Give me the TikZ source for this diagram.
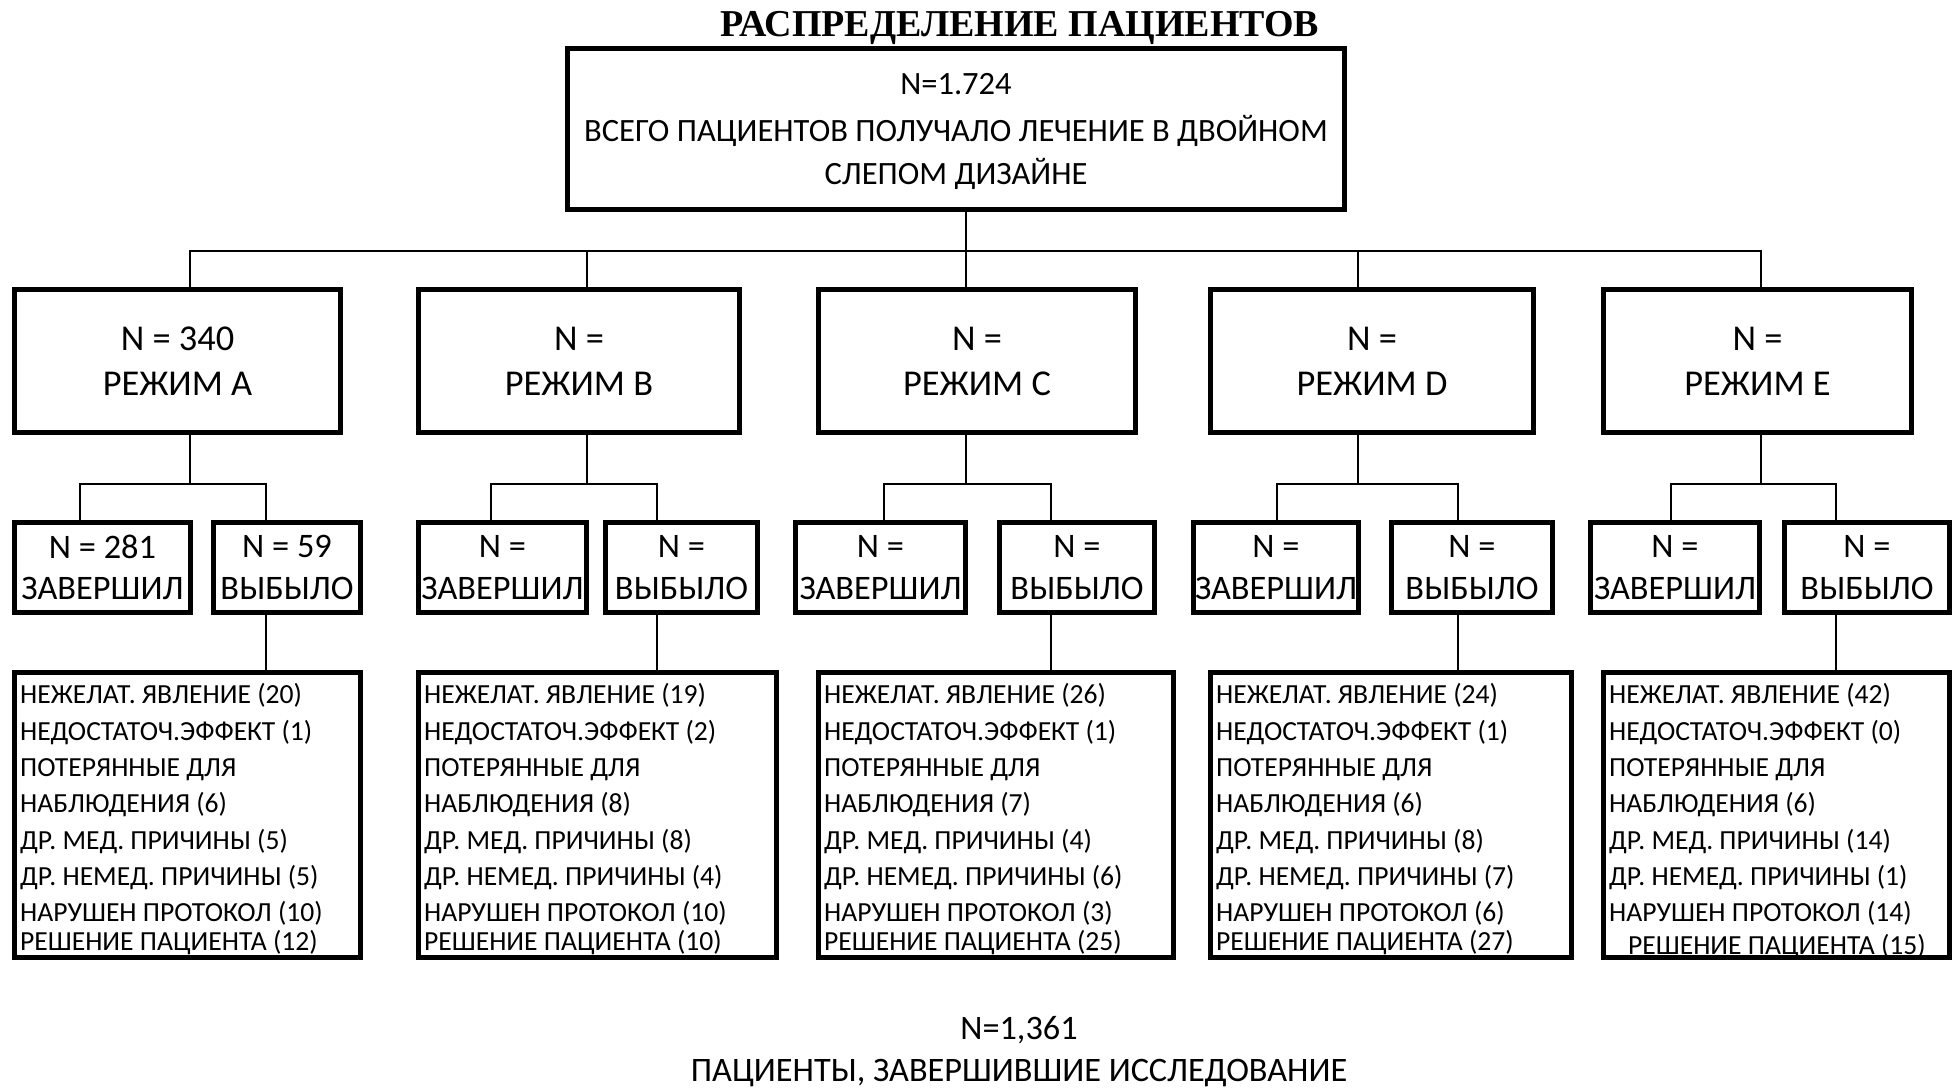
\documentclass[tikz,border=0pt]{standalone}
\usepackage{fontspec}
\setmainfont{Carlito}
\newfontfamily\titlefont{Liberation Serif}

\begin{document}
\begin{tikzpicture}[x=0.01cm, y=-0.01cm,
  box/.style={draw, line width=1.45pt, inner sep=0pt, outer sep=0pt, align=center},
  link/.style={line width=0.8pt},
  lvltwo/.style={box, minimum height=1.43cm, font=\fontsize{10.35}{12.8}\selectfont,
    execute at begin node=\rule{0pt}{8pt}},
  lvlthree/.style={box, minimum height=0.9cm, font=\fontsize{9.77}{11.8}\selectfont,
    execute at begin node=\rule{0pt}{8.6pt}},
  reasons/.style={box, minimum height=2.85cm},
  reason/.style={anchor=base west, inner sep=0pt, font=\fontsize{7.85}{9}\selectfont}]
\useasboundingbox (0,0) rectangle (1959,1089);

\node[anchor=base, font=\titlefont\bfseries\fontsize{10.8}{12}\selectfont] (title) at (1020,37) {РАСПРЕДЕЛЕНИЕ ПАЦИЕНТОВ};
\node[box, minimum width=7.77cm, minimum height=1.61cm, font=\fontsize{9.25}{12.1}\selectfont] (top) at (956,129)
  {\rule{0pt}{7.4pt}N=1.724\\[1.4pt]ВСЕГО ПАЦИЕНТОВ ПОЛУЧАЛО ЛЕЧЕНИЕ В ДВОЙНОМ\\СЛЕПОМ ДИЗАЙНЕ};

% regimens
\node[lvltwo, minimum width=3.26cm] (regA) at (177.5,361) {N = 340\\РЕЖИМ A};
\node[lvltwo, minimum width=3.21cm] (regB) at (579,361) {N =\\РЕЖИМ B};
\node[lvltwo, minimum width=3.17cm] (regC) at (977,361) {N =\\РЕЖИМ C};
\node[lvltwo, minimum width=3.23cm] (regD) at (1372,361) {N =\\РЕЖИМ D};
\node[lvltwo, minimum width=3.08cm] (regE) at (1757.5,361) {N =\\РЕЖИМ E};

% completed / dropped out
\node[lvlthree, minimum width=1.76cm] (doneA) at (102.5,567.5) {N = 281\\ЗАВЕРШИЛ};
\node[lvlthree, minimum width=1.47cm] (dropA) at (287,567.5) {N = 59\\ВЫБЫЛО};
\node[lvlthree, minimum width=1.68cm] (doneB) at (502.5,567.5) {N =\\ЗАВЕРШИЛ};
\node[lvlthree, minimum width=1.52cm] (dropB) at (681.5,567.5) {N =\\ВЫБЫЛО};
\node[lvlthree, minimum width=1.70cm] (doneC) at (880.5,567.5) {N =\\ЗАВЕРШИЛ};
\node[lvlthree, minimum width=1.55cm] (dropC) at (1077,567.5) {N =\\ВЫБЫЛО};
\node[lvlthree, minimum width=1.65cm] (doneD) at (1276,567.5) {N =\\ЗАВЕРШИЛ};
\node[lvlthree, minimum width=1.61cm] (dropD) at (1472,567.5) {N =\\ВЫБЫЛО};
\node[lvlthree, minimum width=1.69cm] (doneE) at (1675,567.5) {N =\\ЗАВЕРШИЛ};
\node[lvlthree, minimum width=1.65cm] (dropE) at (1867,567.5) {N =\\ВЫБЫЛО};

% reasons for dropping out
\node[reasons, minimum width=3.46cm] (listA) at (187.5,815) {};
\node[reasons, minimum width=3.58cm] (listB) at (597.5,815) {};
\node[reasons, minimum width=3.55cm] (listC) at (996,815) {};
\node[reasons, minimum width=3.61cm] (listD) at (1391,815) {};
\node[reasons, minimum width=3.46cm] (listE) at (1776.5,815) {};

\foreach \c/\va/\vb/\vd/\ve/\vf/\vg/\vh/\sx in {A/20/1/6/5/5/10/12/0, B/19/2/8/8/4/10/10/0,
    C/26/1/7/4/6/3/25/0, D/24/1/6/8/7/6/27/0, E/42/0/6/14/1/14/15/1}{
  \foreach \txt [count=\i] in {НЕЖЕЛАТ. ЯВЛЕНИЕ (\va), НЕДОСТАТОЧ.ЭФФЕКТ (\vb), ПОТЕРЯННЫЕ ДЛЯ,
      НАБЛЮДЕНИЯ (\vd), ДР. МЕД. ПРИЧИНЫ (\ve), ДР. НЕМЕД. ПРИЧИНЫ (\vf), НАРУШЕН ПРОТОКОЛ (\vg)}
    \node[reason] (why\c\i) at ([shift={(5,31.5+36.3*\i-36.3)}]list\c.north west) {\txt};
  \node[reason] (why\c8) at ([shift={(5+19*\sx,278.5+4*\sx)}]list\c.north west) {РЕШЕНИЕ ПАЦИЕНТА (\vh)};
}

% connectors
\foreach \c/\r/\d/\o in {A/1.25/-2.25/-2.1, B/0.8/-1.15/-2.45, C/-1.1/0.35/-2.6,
    D/-1.4/0.1/-1.4, E/0.35/-0.4/-3.1}{
  \draw[link] ([xshift=1mm]top.south) -- ++(0,41.5) -| ([xshift=\r mm]reg\c.north);
  \draw[link] ([xshift=\r mm]reg\c.south) -- ++(0,51.5) -| ([xshift=\d mm]done\c.north);
  \draw[link] ([xshift=\r mm]reg\c.south) -- ++(0,51.5) -| ([xshift=\o mm]drop\c.north);
  \draw[link] ([xshift=\o mm]drop\c.south) -- ([xshift=\o mm]drop\c.south |- list\c.north);
}

\node[align=center, font=\fontsize{9.75}{12}\selectfont] (total) at (1019,1052)
  {N=1,361\\ПАЦИЕНТЫ, ЗАВЕРШИВШИЕ ИССЛЕДОВАНИЕ};
\end{tikzpicture}
\end{document}
